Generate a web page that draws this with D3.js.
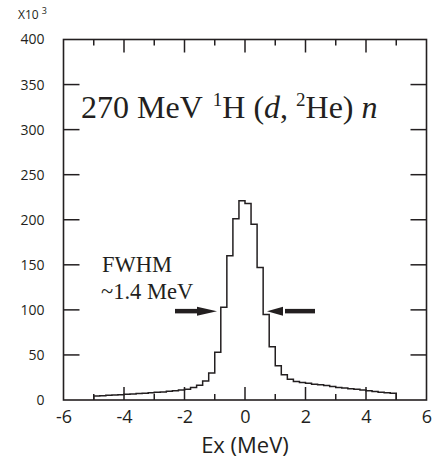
<!DOCTYPE html>
<html><head><meta charset="utf-8">
<script src="https://cdn.jsdelivr.net/npm/d3@7"></script>
<style>body{margin:0;background:#fff}svg{display:block}</style>
</head><body>
<script>
// Histogram bins: left edges (MeV), width 0.2 MeV; counts in units of 10^3
const binStart = [-5.0,-4.8,-4.6,-4.4,-4.2,-4.0,-3.8,-3.6,-3.4,-3.2,-3.0,-2.8,-2.6,-2.4,-2.2,-2.0,-1.8,-1.6,-1.4,-1.2,-1.0,-0.8,-0.6,-0.4,-0.2,0.0,0.2,0.4,0.6,0.8,1.0,1.2,1.4,1.6,1.8,2.0,2.2,2.4,2.6,2.8,3.0,3.2,3.4,3.6,3.8,4.0,4.2,4.4,4.6,4.8];
const counts = [4.4,4.8,5.2,5.6,5.9,6.3,6.7,7.1,7.5,8.0,8.5,9.0,9.6,10.2,11.0,12.0,14.0,16.5,21,30,53,103,160,201,221,218,195,147,95,59,38,28,23,20.5,19.5,18.5,17.6,16.8,16.0,15.0,14.0,13.3,12.6,11.8,11.0,10.3,9.5,8.7,8.0,7.4];
const binWidth = 0.2;
const xMajorTicks = [-6,-4,-2,0,2,4,6];
const xMinorTicks = [-5,-3,-1,1,3,5];
const yTicks = [0,50,100,150,200,250,300,350,400];

const W = 438, H = 462;
const svg = d3.select("body").append("svg").attr("width", W).attr("height", H);
const x = d3.scaleLinear().domain([-6, 6]).range([63.5, 426.5]);
const y = d3.scaleLinear().domain([0, 400]).range([400, 39.5]);

const sans = "'Open Sans', 'Liberation Sans', sans-serif";
const serif = "'Liberation Serif', 'Times New Roman', serif";
const ink = "#231f20";

// frame
svg.append("rect").attr("x", x(-6)).attr("y", y(400))
  .attr("width", x(6) - x(-6)).attr("height", y(0) - y(400))
  .attr("fill", "none").attr("stroke", ink).attr("stroke-width", 1.6);

// bottom axis labels
const gB = svg.append("g").attr("transform", `translate(0,${y(0)})`)
  .call(d3.axisBottom(x).tickValues(xMajorTicks).tickSize(0).tickPadding(10).tickFormat(d => String(d)));
gB.select(".domain").remove();
gB.selectAll("text").attr("font-family", sans).attr("font-size", 18).attr("fill", ink);

// ticks pointing inward
const tickG = svg.append("g").attr("stroke", ink).attr("stroke-width", 1.5);
xMajorTicks.slice(1, -1).forEach(v => {
  tickG.append("line").attr("x1", x(v)).attr("x2", x(v)).attr("y1", y(0)).attr("y2", y(0) - 13);
  tickG.append("line").attr("x1", x(v)).attr("x2", x(v)).attr("y1", y(400)).attr("y2", y(400) + 13);
});
xMinorTicks.forEach(v => {
  tickG.append("line").attr("x1", x(v)).attr("x2", x(v)).attr("y1", y(0)).attr("y2", y(0) - 6);
  tickG.append("line").attr("x1", x(v)).attr("x2", x(v)).attr("y1", y(400)).attr("y2", y(400) + 6);
});
yTicks.slice(1, -1).forEach(v => {
  tickG.append("line").attr("x1", x(-6)).attr("x2", x(-6) + 16).attr("y1", y(v)).attr("y2", y(v));
  tickG.append("line").attr("x1", x(6)).attr("x2", x(6) - 16).attr("y1", y(v)).attr("y2", y(v));
});

// left axis labels
const gL = svg.append("g").attr("transform", `translate(${x(-6)},0)`)
  .call(d3.axisLeft(y).tickValues(yTicks).tickSize(0).tickPadding(19).tickFormat(d => String(d)));
gL.select(".domain").remove();
gL.selectAll("text").attr("font-family", sans).attr("font-size", 14).attr("fill", ink);

// x10^3
const mult = svg.append("text").attr("x", 18).attr("y", 19)
  .attr("font-family", sans).attr("font-size", 12).attr("fill", ink);
mult.append("tspan").text("X10");
mult.append("tspan").attr("dx", 3).attr("dy", -5).attr("font-size", 9).text("3");

// x axis title
svg.append("text").attr("x", 245).attr("y", 453).attr("text-anchor", "middle")
  .attr("font-family", sans).attr("font-size", 22).attr("fill", ink).text("Ex (MeV)");

// histogram step path
const pts = [[binStart[0], 0]];
binStart.forEach((b, i) => { pts.push([b, counts[i]]); pts.push([b + binWidth, counts[i]]); });
pts.push([binStart[binStart.length - 1] + binWidth, 0]);
const line = d3.line().x(d => x(d[0])).y(d => y(d[1]));
svg.append("path").attr("d", line(pts)).attr("fill", "none")
  .attr("stroke", ink).attr("stroke-width", 1.5);

// title
const t = svg.append("text").attr("x", 81).attr("y", 118)
  .attr("font-family", serif).attr("font-size", 32).attr("fill", ink);
t.append("tspan").text("270 MeV");
t.append("tspan").attr("dx", 10).attr("dy", -12).attr("font-size", 19).text("1");
t.append("tspan").attr("dy", 12).text("H (");
t.append("tspan").attr("font-style", "italic").text("d");
t.append("tspan").text(", ");
t.append("tspan").attr("dy", -12).attr("font-size", 19).text("2");
t.append("tspan").attr("dy", 12).text("He) ");
t.append("tspan").attr("font-style", "italic").text("n");

// FWHM annotation
svg.append("text").attr("x", 102).attr("y", 272).attr("font-family", serif)
  .attr("font-size", 22.5).attr("fill", ink).text("FWHM");
svg.append("text").attr("x", 101).attr("y", 299).attr("font-family", serif)
  .attr("font-size", 22.5).attr("fill", ink).text("~1.4 MeV");

// arrows
function arrow(x1, x2, yy) {
  const dir = Math.sign(x2 - x1);
  const head = 18;
  svg.append("line").attr("x1", x1).attr("x2", x2 - dir * head).attr("y1", yy).attr("y2", yy)
    .attr("stroke", ink).attr("stroke-width", 4.5);
  svg.append("path").attr("d", `M${x2},${yy} L${x2 - dir * head - 2},${yy - 4.5} L${x2 - dir * head - 2},${yy + 4.5} Z`)
    .attr("fill", ink);
}
arrow(175, 217, y(98.6));
arrow(315, 267, y(98.6));
</script>
</body></html>
